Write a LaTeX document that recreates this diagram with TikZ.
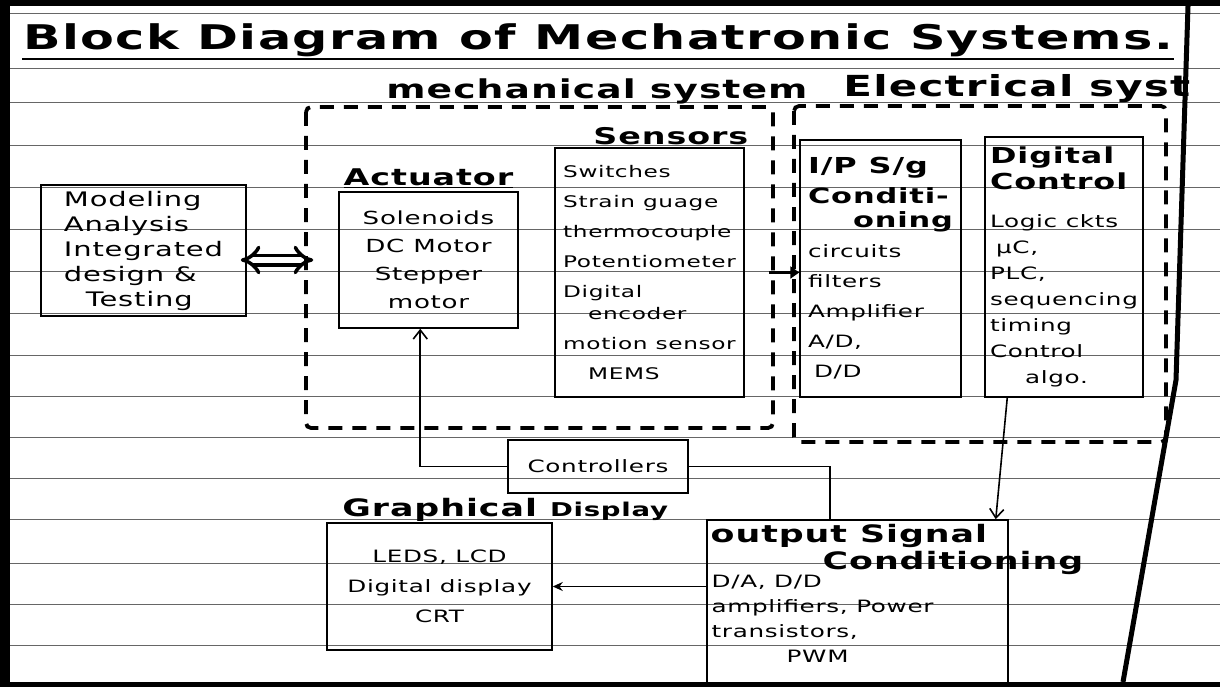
\documentclass[tikz,border=0pt]{standalone}
\usepackage{fontspec}
\newfontfamily\hand[FakeStretch=1.45,LetterSpace=4]{DejaVu Sans}
\usetikzlibrary{arrows.meta,positioning}

\begin{document}
\begin{tikzpicture}[
      x=1pt, y=-1pt,
      thick,
      blok/.style={
        draw,
        line width=1.5pt,
        inner sep=3pt,
        align=left,
        font=\hand\fontsize{17}{30}\selectfont
      },
      hdr/.style={
        inner sep=1pt,
        font=\hand\bfseries\fontsize{23}{26}\selectfont
      },
      grp/.style={line width=3.8pt, dash pattern=on 14pt off 10pt, rounded corners=5pt},
      rule/.style={black!60, line width=0.7pt},
      link/.style={line width=1.6pt}
    ]
      \useasboundingbox (0,0) rectangle (1220,687);

      % ruled paper
      \foreach \y in {13,68,102,145,187,229,271,313,355,396,437,478,519,563,604,645}
        \draw[rule] (10,\y) -- (1220,\y);
      \fill (0,0) rectangle (10,687);
      \fill (0,0) rectangle (1220,6);
      \fill (0,682) rectangle (1220,687);
      \draw[line width=5pt] (1188,6) -- (1176,380) -- (1123,682);

      % headings
      \node[hdr, font=\hand\bfseries\fontsize{34}{36}\selectfont, anchor=base west] (title) at (22,50) {Block Diagram of Mechatronic Systems.};
      \draw[line width=2.2pt] (title.south west) -- (title.south east);
      \node[hdr, font=\hand\bfseries\fontsize{26}{28}\selectfont, anchor=base west] (mechhd) at (385,99) {mechanical system};
      \node[hdr, font=\hand\bfseries\fontsize{29}{30}\selectfont, anchor=base west] (elechd) at (842,97) {Electrical syst};

      % system groups
      \draw[grp] (306,107) rectangle (773,428);
      \draw[grp] (794,106) rectangle (1166,442);

      % blocks
      \node[blok, font=\hand\fontsize{20}{25}\selectfont, minimum width=205pt, minimum height=131pt] (model) at (143.5,250.5) {Modeling\\Analysis\\Integrated\\design \&\\\hspace*{22pt}Testing};
      \node[blok, align=center, font=\hand\fontsize{18}{28}\selectfont, minimum width=179pt, minimum height=136pt] (actu) at (428.5,260) {Solenoids\\DC Motor\\Stepper\\motor};
      \node[hdr, above=2pt of actu] (actuhd) {\underline{Actuator}};
      \node[blok, font=\hand\fontsize{16}{30}\selectfont, minimum width=189pt, minimum height=249pt] (sens) at (649.5,272.5) {Switches\\Strain guage\\thermocouple\\Potentiometer\\Digital\\[-8pt]\hspace*{25pt}encoder\\motion sensor\\\hspace*{25pt}MEMS};
      \node[hdr, above left=1pt and -5pt of sens.north east] (senshd) {Sensors};
      \node[blok, minimum width=161pt, minimum height=257pt] (ipsig) at (880.5,268.5) {{\bfseries\fontsize{22}{30}\selectfont I/P S/g}\\{\bfseries\fontsize{21}{30}\selectfont Conditi-}\\[-6pt]\hspace*{45pt}{\bfseries\fontsize{21}{30}\selectfont oning}\\circuits\\filters\\Amplifier\\A/D,\\\hspace*{6pt}D/D};
      \node[blok, font=\hand\fontsize{17}{26}\selectfont, minimum width=158pt, minimum height=260pt] (dctl) at (1064,267) {{\bfseries\fontsize{22}{26}\selectfont Digital}\\{\bfseries\fontsize{22}{26}\selectfont Control}\\[12pt]Logic ckts\\\hspace*{6pt}μC,\\PLC,\\sequencing\\timing\\Control\\\hspace*{35pt}algo.};
      \node[blok, align=center, minimum width=180pt, minimum height=53pt] (ctrl) at (598,466.5) {Controllers};
      \node[blok, align=center, minimum width=225pt, minimum height=127pt] (disp) at (439.5,586.5) {LEDS, LCD\\Digital display\\CRT};
      \node[hdr, font=\hand\bfseries\fontsize{24}{26}\selectfont, anchor=base west] (disphd) at (341,516) {\underline{Graphical} {\fontsize{19}{20}\selectfont Display}};
      \node[draw, line width=1.5pt, minimum width=301pt, minimum height=170pt] (outsc) at (857.5,605) {};
      \node[hdr, font=\hand\bfseries\fontsize{24}{27}\selectfont, align=left, below right=4pt and 3pt of outsc.north west] (outhd) {output Signal\\\hspace*{112pt}Conditioning};
      \node[align=left, inner sep=1pt, font=\hand\fontsize{17}{25}\selectfont, below right=54pt and 4pt of outsc.north west] (outtxt) {D/A, D/D\\amplifiers, Power\\transistors,\\\hspace*{75pt}PWM};

      % connections
      \draw[line width=3.5pt, double distance=6pt, {Implies}-{Implies}, shorten <=-6pt, shorten >=25pt] (model.east |- actu.west) -- (actu.west);
      \draw[line width=3pt, -{Triangle[length=9pt,width=12pt]}, shorten <=24pt] (sens.east) -- (sens.east -| ipsig.west);
      \draw[link, -{Straight Barb[length=9pt,width=14pt]}] (ctrl.west) -| ([xshift=82pt]actu.south west);
      \draw[link] (ctrl.east) -| ([xshift=124pt]outsc.north west);
      \draw[link, -{Straight Barb[length=9pt,width=14pt]}] ([xshift=23pt]dctl.south west) -- ([xshift=-13pt]outsc.north east);
      \draw[link, -{Stealth[length=10pt,width=9pt]}] (outsc.west |- disp.east) -- (disp.east);

    \end{tikzpicture}
\end{document}
